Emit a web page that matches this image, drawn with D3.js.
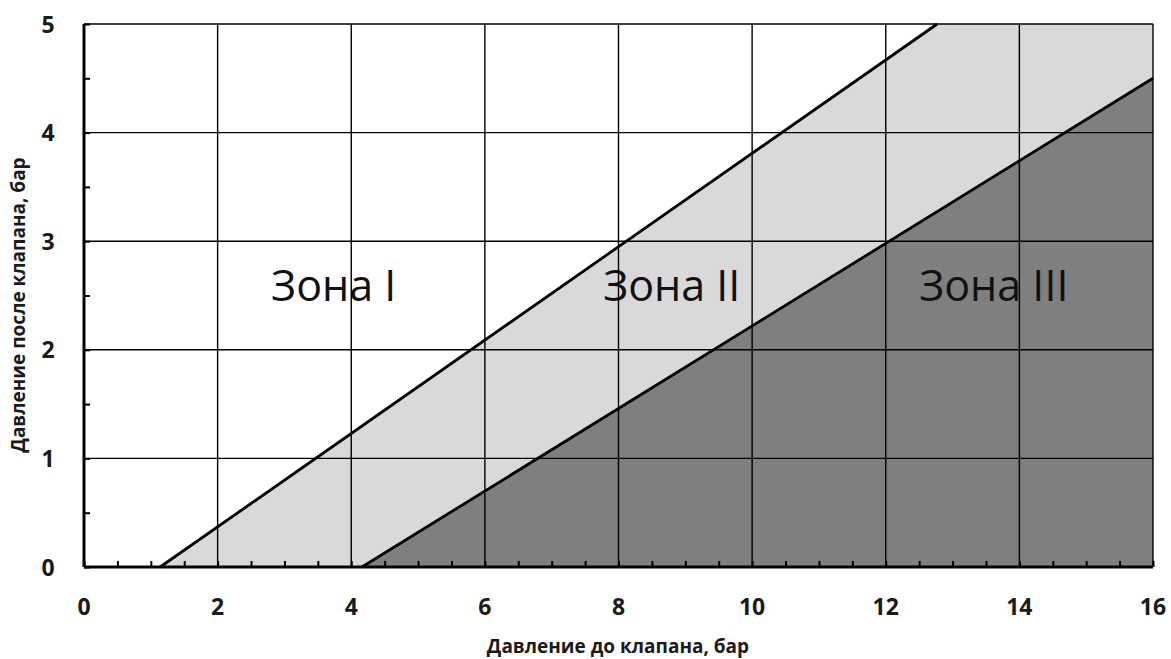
<!DOCTYPE html>
<html>
<head>
<meta charset="utf-8">
<script src="https://cdn.jsdelivr.net/npm/d3@7"></script>
<style>
  body { margin: 0; background: #fff; }
  svg text { font-family: "Open Sans", sans-serif; }
</style>
</head>
<body>
<div id="chart"></div>
<script>
// boundary lines (x = давление до, y = давление после)
var line_upper = [[1.14, 0], [12.77, 5]]
var line_lower = [[4.16, 0], [16, 4.5]]
var x_ticks = [0, 2, 4, 6, 8, 10, 12, 14, 16]
var y_ticks = [0, 1, 2, 3, 4, 5]
var zone_names = ["Зона I", "Зона II", "Зона III"]
var zone_pos = [[2.8, 2.45], [7.77, 2.45], [12.5, 2.45]]
var x_title = "Давление до клапана, бар"
var y_title = "Давление после клапана, бар"

var width = 1171, height = 659
var margin = {top: 24, right: 18, bottom: 92, left: 84}

var svg = d3.select("#chart").append("svg")
    .attr("width", width)
    .attr("height", height)

var x = d3.scaleLinear().domain([0, 16]).range([margin.left, width - margin.right])
var y = d3.scaleLinear().domain([0, 5]).range([height - margin.bottom, margin.top])

// zone fills
var zone2 = [line_upper[0], line_upper[1], [16, 5], [16, line_lower[1][1]], line_lower[1], line_lower[0]]
var zone3 = [line_lower[0], line_lower[1], [16, 0]]
var poly = d3.line().x(function(d){ return x(d[0]) }).y(function(d){ return y(d[1]) })

svg.append("path").attr("d", poly(zone2) + "Z").attr("fill", "#d9d9d9")
svg.append("path").attr("d", poly(zone3) + "Z").attr("fill", "#7f7f7f")

// zone labels (under the grid)
svg.selectAll(".zone")
    .data(zone_names)
  .enter().append("text")
    .attr("class", "zone")
    .attr("x", function(d, i){ return x(zone_pos[i][0]) })
    .attr("y", function(d, i){ return y(zone_pos[i][1]) })
    .attr("font-size", 43)
    .attr("fill", "#111")
    .text(function(d){ return d })

// grid
svg.append("g")
    .selectAll("line")
    .data(x_ticks.slice(1))
  .enter().append("line")
    .attr("x1", function(d){ return x(d) }).attr("x2", function(d){ return x(d) })
    .attr("y1", y(0)).attr("y2", y(5))
    .attr("stroke", "#000").attr("stroke-width", 1.4)

svg.append("g")
    .selectAll("line")
    .data(y_ticks.slice(1))
  .enter().append("line")
    .attr("x1", x(0)).attr("x2", x(16))
    .attr("y1", function(d){ return y(d) }).attr("y2", function(d){ return y(d) })
    .attr("stroke", "#000").attr("stroke-width", 1.4)

// boundary lines
svg.append("path").attr("d", poly(line_upper)).attr("stroke", "#000").attr("stroke-width", 2.8).attr("fill", "none")
svg.append("path").attr("d", poly(line_lower)).attr("stroke", "#000").attr("stroke-width", 2.8).attr("fill", "none")

// axes: ticks pointing inwards, every 0.5
var xAxis = d3.axisTop(x).ticks(32).tickSize(6).tickFormat("")
var yAxis = d3.axisRight(y).ticks(10).tickSize(6).tickFormat("")

var gx = svg.append("g").attr("transform", "translate(0," + y(0) + ")").call(xAxis)
var gy = svg.append("g").attr("transform", "translate(" + x(0) + ",0)").call(yAxis)
gx.selectAll("line").attr("stroke", "#000").attr("stroke-width", 2)
gy.selectAll("line").attr("stroke", "#000").attr("stroke-width", 2)
gx.select(".domain").remove()
gy.select(".domain").remove()

svg.append("line").attr("x1", x(0)).attr("x2", x(16)).attr("y1", y(0)).attr("y2", y(0))
    .attr("stroke", "#000").attr("stroke-width", 3)
svg.append("line").attr("x1", x(0)).attr("x2", x(0)).attr("y1", y(0)).attr("y2", y(5))
    .attr("stroke", "#000").attr("stroke-width", 3)

// tick labels
svg.selectAll(".xlab")
    .data(x_ticks)
  .enter().append("text")
    .attr("x", function(d){ return x(d) })
    .attr("y", y(0) + 48)
    .attr("text-anchor", "middle")
    .attr("font-size", 23).attr("font-weight", "bold").attr("fill", "#1a1a1a")
    .text(function(d){ return d })

svg.selectAll(".ylab")
    .data(y_ticks)
  .enter().append("text")
    .attr("x", 48)
    .attr("y", function(d){ return y(d) + 8.5 })
    .attr("text-anchor", "middle")
    .attr("font-size", 23).attr("font-weight", "bold").attr("fill", "#1a1a1a")
    .text(function(d){ return d })

// axis titles
svg.append("text")
    .attr("x", 618).attr("y", 653)
    .attr("text-anchor", "middle")
    .attr("font-size", 19).attr("font-weight", "bold").attr("fill", "#1a1a1a")
    .text(x_title)

svg.append("text")
    .attr("transform", "translate(25,305) rotate(-90)")
    .attr("text-anchor", "middle")
    .attr("font-size", 19).attr("font-weight", "bold").attr("fill", "#1a1a1a")
    .text(y_title)
</script>
</body>
</html>
